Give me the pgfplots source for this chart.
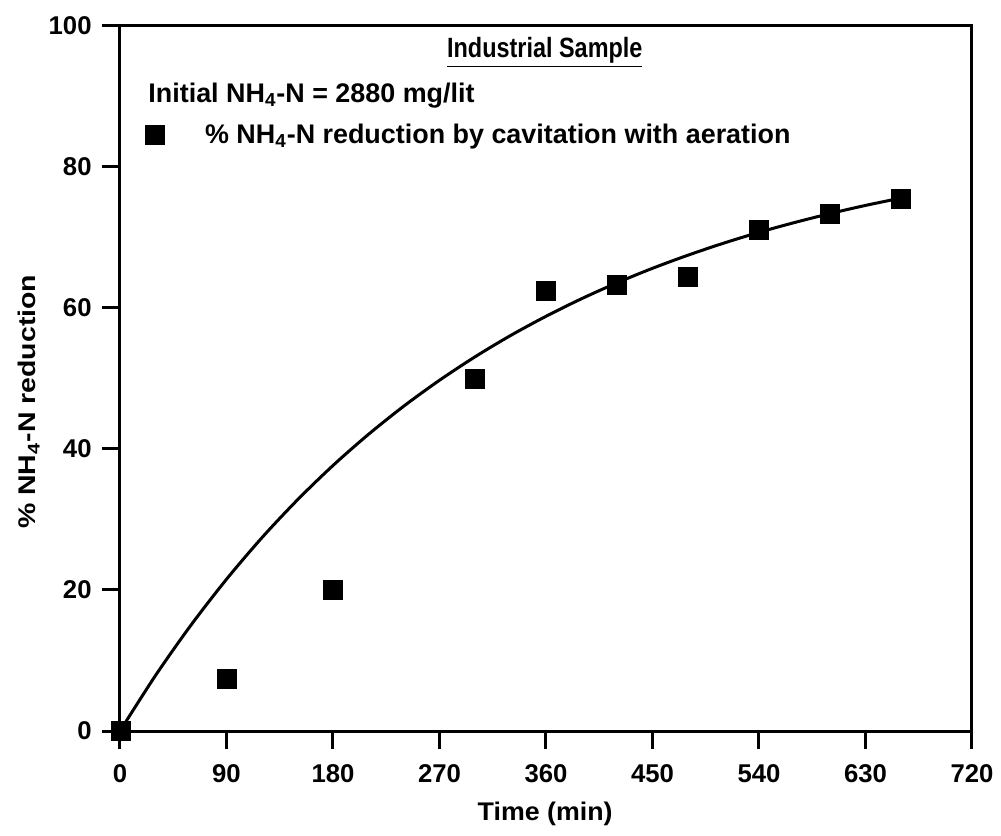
\documentclass[border=0pt]{standalone}
\usepackage{fontspec}
\setmainfont{Liberation Sans}
\newfontfamily\ylabfont{Liberation Sans}[FakeStretch=1.18]
\newfontfamily\xlabfont{Liberation Sans}[FakeStretch=1.05]
\newfontfamily\titlefont{Liberation Sans}[FakeStretch=0.84]
\usepackage{pgfplots}
\pgfplotsset{compat=1.18}
\begin{document}
\begin{tikzpicture}
\useasboundingbox (-60bp,-52.5bp) rectangle (440.5bp,365.5bp);
\begin{axis}[
  at={(0,0)}, anchor=south west,
  scale only axis,
  width=426bp, height=352.5bp,
  xmin=0, xmax=720, ymin=0, ymax=100,
  xtick={0,90,180,270,360,450,540,630,720},
  ytick={0,20,40,60,80,100},
  tick align=outside,
  major tick length=9bp,
  xtick pos=bottom, ytick pos=left,
  axis line style={line width=1.5bp},
  tick style={line width=1.5bp, black},
  /pgf/number format/assume math mode=true,
  tick label style={font=\fontsize{12.9}{14}\selectfont\bfseries},
  yticklabel style={xshift=-1.7bp},
  xticklabel style={yshift=-4.5bp},
  xlabel={Time (min)},
  ylabel={\% NH\textsubscript{4}-N reduction},
  xlabel style={font=\fontsize{12.8}{14}\xlabfont\bfseries, at={(axis description cs:0.499,-0.117)}, anchor=center},
  ylabel style={font=\fontsize{12.1}{14}\ylabfont\bfseries, at={(axis description cs:-0.1068,0.467)}, anchor=center},
  clip=false,
  legend style={at={(0.029,0.845)}, anchor=west, draw=none, fill=none, inner sep=0pt,
    font=\fontsize{13.5}{15}\selectfont\bfseries},
  legend cell align=left,
]
\addplot[only marks, mark=square*, mark size=4.75bp, black]
  coordinates {(1,0) (90,7.4) (180,20.0) (300,49.9) (360,62.4) (420,63.3) (480,64.4) (540,71.1) (600,73.3) (660,75.5)};
\addlegendentry{\hspace*{18.5bp}\% NH\textsubscript{4}-N reduction by cavitation with aeration}
\addplot[no marks, line width=1.5bp, black, smooth]
  coordinates {(0,0) (30,7.87) (60,15.02) (90,21.52) (120,27.43) (150,32.79) (180,37.66) (210,42.08) (240,46.10) (270,49.75) (300,53.07) (330,56.09) (360,58.82) (390,61.31) (420,63.57) (450,65.63) (480,67.49) (510,69.19) (540,70.73) (570,72.12) (600,73.39) (630,74.55) (660,75.59)};
\node[font=\fontsize{14}{16}\titlefont\bfseries, anchor=base, inner sep=0pt] at (axis cs:359,95.5) {\underline{Industrial Sample}};
\node[font=\fontsize{13.5}{15}\selectfont\bfseries, anchor=base west, inner sep=0pt] at (axis cs:23.7,89.2) {Initial NH\textsubscript{4}-N = 2880 mg/lit};
\end{axis}
\end{tikzpicture}
\end{document}
